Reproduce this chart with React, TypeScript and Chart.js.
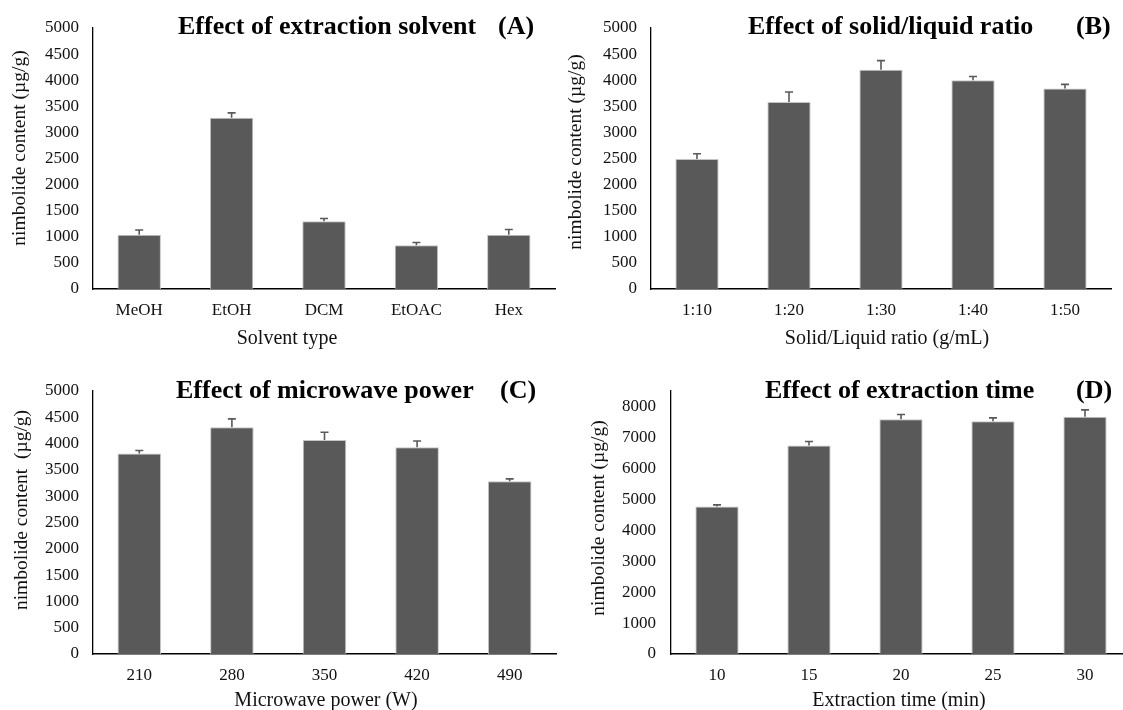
import React, { useEffect, useRef } from "react";
import { Chart, registerables } from "chart.js";

Chart.register(...registerables);

// ---- Data ----
const categoriesA = ["MeOH", "EtOH", "DCM", "EtOAC", "Hex"];
const valuesA = [1040, 3280, 1300, 840, 1040];
const errorsA = [90, 95, 50, 50, 100];

const categoriesB = ["1:10", "1:20", "1:30", "1:40", "1:50"];
const valuesB = [2490, 3580, 4200, 4000, 3840];
const errorsB = [100, 195, 175, 70, 80];

const categoriesC = ["210", "280", "350", "420", "490"];
const valuesC = [3810, 4310, 4070, 3930, 3285];
const errorsC = [60, 160, 145, 120, 45];

const categoriesD = ["10", "15", "20", "25", "30"];
const valuesD = [4770, 6740, 7590, 7520, 7665];
const errorsD = [50, 130, 150, 110, 225];

const yTicks5000 = [0, 500, 1000, 1500, 2000, 2500, 3000, 3500, 4000, 4500, 5000];
const yTicks8000 = [0, 1000, 2000, 3000, 4000, 5000, 6000, 7000, 8000];

const FONT = '"Liberation Serif", "Times New Roman", serif';
const BAR = "#595959";

const errorBarPlugin = {
  id: "errorBars",
  afterDatasetsDraw(chart: any) {
    const ctx = chart.ctx;
    const yScale = chart.scales.y;
    chart.data.datasets.forEach((ds: any, di: number) => {
      const meta = chart.getDatasetMeta(di);
      const errs = ds.errors || [];
      meta.data.forEach((bar: any, i: number) => {
        const v = ds.data[i];
        const e = errs[i] || 0;
        const yTop = yScale.getPixelForValue(v);
        const yErr = yScale.getPixelForValue(v + e);
        ctx.save();
        ctx.strokeStyle = BAR;
        ctx.lineWidth = 1.6;
        ctx.beginPath();
        ctx.moveTo(bar.x, yTop);
        ctx.lineTo(bar.x, yErr);
        ctx.moveTo(bar.x - 4, yErr);
        ctx.lineTo(bar.x + 4, yErr);
        ctx.stroke();
        ctx.restore();
      });
    });
  },
};

const panelTextPlugin = {
  id: "panelText",
  afterDraw(chart: any, _args: any, o: any) {
    if (!o || !o.title) return;
    const ctx = chart.ctx;
    ctx.save();
    ctx.fillStyle = "#000";
    ctx.font = `bold 26px ${FONT}`;
    ctx.textBaseline = "middle";
    ctx.textAlign = "left";
    ctx.fillText(o.title, o.titleX, o.titleY);
    ctx.fillText(o.label, o.labelX, o.titleY);

    ctx.fillStyle = "#111";
    ctx.font = `20px ${FONT}`;
    ctx.textAlign = "center";
    ctx.fillText(o.xTitle, o.xTitleX, o.xTitleY);

    ctx.font = `19.5px ${FONT}`;
    ctx.translate(o.yTitleX, o.yTitleY);
    ctx.rotate(-Math.PI / 2);
    ctx.fillText(o.yTitle, 0, 0);
    ctx.restore();
  },
};

type PanelProps = {
  left: number;
  top: number;
  width: number;
  height: number;
  categories: string[];
  values: number[];
  errors: number[];
  yMax: number;
  yTicks: number[];
  yWidth: number;
  xHeight: number;
  padTop: number;
  padRight: number;
  tickPad: number;
  yTitle: string;
  xTitle: string;
  title: string;
  label: string;
  titleX: number;
  labelX: number;
  titleY: number;
  xTitleX: number;
  xTitleY: number;
  yTitleX: number;
  yTitleY: number;
};

function Panel(p: PanelProps) {
  const ref = useRef<HTMLCanvasElement | null>(null);
  useEffect(() => {
    if (!ref.current) return;
    const chart = new Chart(ref.current, {
      type: "bar",
      data: {
        labels: p.categories,
        datasets: [
          {
            data: p.values,
            errors: p.errors,
            backgroundColor: BAR,
            borderColor: "#c4c4c4",
            borderWidth: 1,
            barPercentage: 0.47,
            categoryPercentage: 1,
          } as any,
        ],
      },
      options: {
        animation: false,
        responsive: false,
        devicePixelRatio: 1,
        layout: { padding: { left: 0, top: p.padTop, right: p.padRight, bottom: 0 } },
        plugins: {
          legend: { display: false },
          tooltip: { enabled: false },
          panelText: {
            title: p.title,
            label: p.label,
            titleX: p.titleX,
            labelX: p.labelX,
            titleY: p.titleY,
            xTitle: p.xTitle,
            xTitleX: p.xTitleX,
            xTitleY: p.xTitleY,
            yTitle: p.yTitle,
            yTitleX: p.yTitleX,
            yTitleY: p.yTitleY,
          },
        } as any,
        scales: {
          x: {
            grid: { display: false, drawTicks: false },
            border: { display: true, color: "#000", width: 1.5 },
            ticks: { color: "#111", font: { family: FONT, size: 17 }, padding: 11, maxRotation: 0 },
            title: { display: false },
            afterFit: (s: any) => {
              s.height = p.xHeight;
            },
          },
          y: {
            min: 0,
            max: p.yMax,
            grid: { display: false, drawTicks: false },
            border: { display: true, color: "#000", width: 1.3 },
            afterBuildTicks: (s: any) => {
              s.ticks = p.yTicks.map((v) => ({ value: v }));
            },
            ticks: {
              color: "#111",
              font: { family: FONT, size: 17 },
              padding: p.tickPad,
              callback: (v: any) => String(v),
            },
            title: { display: false },
            afterFit: (s: any) => {
              s.width = p.yWidth;
            },
          },
        },
      } as any,
      plugins: [errorBarPlugin, panelTextPlugin],
    });
    return () => chart.destroy();
  }, []);
  return (
    <canvas
      ref={ref}
      width={p.width}
      height={p.height}
      style={{ position: "absolute", left: p.left, top: p.top, width: p.width, height: p.height }}
    />
  );
}

export default function App() {
  return (
    <div
      style={{
        position: "fixed",
        left: 0,
        top: 0,
        width: 1123,
        height: 710,
        overflow: "hidden",
        background: "#fff",
      }}
    >
      <Panel
        left={0}
        top={0}
        width={560}
        height={352}
        categories={categoriesA}
        values={valuesA}
        errors={errorsA}
        yMax={5000}
        yTicks={yTicks5000}
        yWidth={93}
        xHeight={63}
        padTop={28}
        padRight={5}
        tickPad={14}
        yTitle="nimbolide content (µg/g)"
        xTitle="Solvent type"
        title="Effect of extraction solvent"
        label="(A)"
        titleX={178}
        labelX={498}
        titleY={27}
        xTitleX={287}
        xTitleY={339}
        yTitleX={20}
        yTitleY={148}
      />
      <Panel
        left={560}
        top={0}
        width={563}
        height={352}
        categories={categoriesB}
        values={valuesB}
        errors={errorsB}
        yMax={5000}
        yTicks={yTicks5000}
        yWidth={91}
        xHeight={63}
        padTop={28}
        padRight={12}
        tickPad={14}
        yTitle="nimbolide content (µg/g)"
        xTitle="Solid/Liquid ratio (g/mL)"
        title="Effect of solid/liquid ratio"
        label="(B)"
        titleX={188}
        labelX={516}
        titleY={27}
        xTitleX={327}
        xTitleY={339}
        yTitleX={16}
        yTitleY={152}
      />
      <Panel
        left={0}
        top={352}
        width={560}
        height={358}
        categories={categoriesC}
        values={valuesC}
        errors={errorsC}
        yMax={5000}
        yTicks={yTicks5000}
        yWidth={93}
        xHeight={56}
        padTop={39}
        padRight={4}
        tickPad={14}
        yTitle="nimbolide content  (µg/g)"
        xTitle="Microwave power (W)"
        title="Effect of microwave power"
        label="(C)"
        titleX={176}
        labelX={500}
        titleY={39}
        xTitleX={326}
        xTitleY={349}
        yTitleX={22}
        yTitleY={158}
      />
      <Panel
        left={560}
        top={352}
        width={575}
        height={358}
        categories={categoriesD}
        values={valuesD}
        errors={errorsD}
        yMax={8500}
        yTicks={yTicks8000}
        yWidth={111}
        xHeight={56}
        padTop={39}
        padRight={4}
        tickPad={15}
        yTitle="nimbolide content (µg/g)"
        xTitle="Extraction time (min)"
        title="Effect of extraction time"
        label="(D)"
        titleX={205}
        labelX={516}
        titleY={39}
        xTitleX={339}
        xTitleY={349}
        yTitleX={39}
        yTitleY={166}
      />
    </div>
  );
}
